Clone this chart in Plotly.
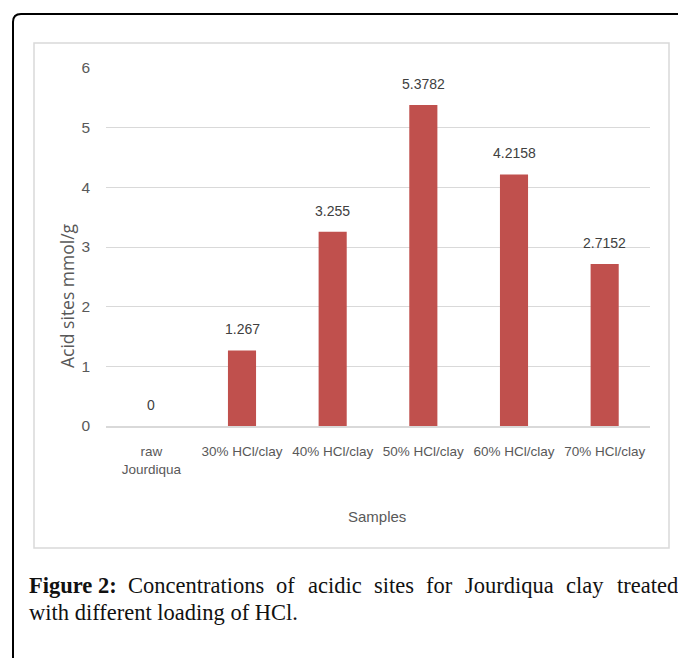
import plotly.graph_objects as go

W, H = 678, 658

categories = ["raw<br>Jourdiqua", "30% HCl/clay", "40% HCl/clay", "50% HCl/clay", "60% HCl/clay", "70% HCl/clay"]
values = [0, 1.267, 3.255, 5.3782, 4.2158, 2.7152]
value_labels = ["0", "1.267", "3.255", "5.3782", "4.2158", "2.7152"]
y_ticks = [0, 1, 2, 3, 4, 5, 6]

caption_words = ["<b>Figure 2:</b>", "Concentrations", "of", "acidic", "sites", "for", "Jourdiqua", "clay", "treated"]
caption_word_x = [27, 126, 274, 306, 372, 424, 463, 564, 615]
caption_line2 = "with different loading of HCl."

def px(x):
    return x / W

def py(y):
    return 1 - y / H

SANS = "Liberation Sans, Arial, sans-serif"

fig = go.Figure()
fig.add_trace(go.Bar(
    x=categories, y=values,
    marker=dict(color="#C0504D", line=dict(width=0)),
    width=0.31,
    hoverinfo="skip",
))

for c, v, t in zip(categories, values, value_labels):
    fig.add_annotation(x=c, y=v, text=t, showarrow=False, yshift=21,
                       yanchor="middle", xanchor="center",
                       font=dict(family=SANS, size=14, color="#404040"))

fig.update_layout(
    width=W, height=H,
    margin=dict(l=0, r=0, t=0, b=0),
    paper_bgcolor="white", plot_bgcolor="white",
    showlegend=False,
    xaxis=dict(
        domain=[px(106), px(650)],
        anchor="y",
        showgrid=False,
        showline=True, linecolor="#D9D9D9", linewidth=1.5,
        tickangle=0,
        tickfont=dict(family=SANS, size=13.5, color="#595959"),
        ticklabelstandoff=12,
        automargin=False,
        fixedrange=True,
    ),
    yaxis=dict(
        domain=[py(426), py(68)],
        range=[0, 6],
        tickvals=y_ticks,
        ticktext=[str(t) for t in y_ticks],
        showgrid=True, gridcolor="#D9D9D9", gridwidth=1,
        zeroline=False,
        showline=False,
        tickfont=dict(family=SANS, size=15.5, color="#595959"),
        ticklabelstandoff=15,
        automargin=False,
        fixedrange=True,
    ),
)

# axis titles
fig.add_annotation(xref="paper", yref="paper", x=px(67), y=py(296),
                   xanchor="center", yanchor="middle",
                   text="Acid sites mmol/g", textangle=-90, showarrow=False,
                   font=dict(family="Open Sans, sans-serif", size=17.5, color="#595959"))
fig.add_annotation(xref="paper", yref="paper", x=px(377), y=py(516),
                   xanchor="center", yanchor="middle",
                   text="Samples", showarrow=False,
                   font=dict(family=SANS, size=15, color="#595959"))

# caption
CAP_FONT = "Liberation Serif, DejaVu Serif, serif"
for wtxt, wx in zip(caption_words, caption_word_x):
    fig.add_annotation(xref="paper", yref="paper", x=px(wx), y=py(585),
                       xanchor="left", yanchor="middle",
                       text=wtxt, showarrow=False,
                       font=dict(family=CAP_FONT, size=22.5, color="#111111"))
fig.add_annotation(xref="paper", yref="paper", x=px(27), y=py(612),
                   xanchor="left", yanchor="middle",
                   text=caption_line2,
                   showarrow=False, font=dict(family=CAP_FONT, size=22.5, color="#111111"))

# outer rounded frame
r = 8
path = (f"M {px(13)},{py(H + 5)} L {px(13)},{py(14 + r)} "
        f"Q {px(13)},{py(14)} {px(13 + r)},{py(14)} L {px(W + 5)},{py(14)}")
fig.add_shape(type="path", xref="paper", yref="paper", path=path,
              line=dict(color="#000000", width=2))
# inner chart box
fig.add_shape(type="rect", xref="paper", yref="paper",
              x0=px(34), y0=py(548), x1=px(669), y1=py(43),
              line=dict(color="#D9D9D9", width=1.5), layer="below")

fig.write_html("out.html", config={"displayModeBar": False},
               post_script="document.body.style.margin='0';document.body.style.overflow='hidden';")
